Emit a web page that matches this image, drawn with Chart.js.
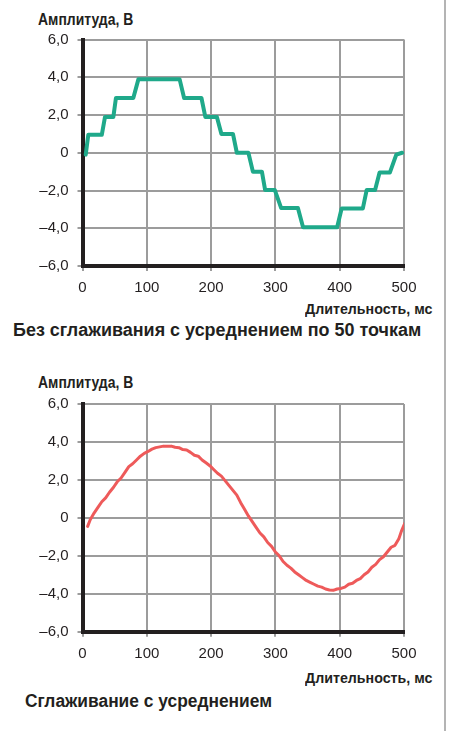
<!DOCTYPE html>
<html>
<head>
<meta charset="UTF-8">
<title>Амплитуда сигнала</title>
<script src="https://cdn.jsdelivr.net/npm/chart.js@4.4.1/dist/chart.umd.min.js"></script>
<style>
  body { margin: 0; background: #fff; width: 449px; height: 731px; position: relative; overflow: hidden; }
  .rule { position: absolute; left: 444px; top: 0; width: 2px; height: 731px; background: #b4b4b4; }
  .box { position: absolute; left: 0; width: 449px; height: 300px; }
  .lbl {
    position: absolute;
    font-family: "Liberation Sans", Arial, sans-serif;
    font-weight: bold;
    line-height: 1;
    color: #231f20;
    white-space: nowrap;
    transform-origin: left top;
  }
  .lbl.right { transform-origin: right top; }
</style>
</head>
<body>
<div class="rule"></div>

<div class="lbl" style="left:38px; top:12px; font-size:16px" data-w="95">Амплитуда, В</div>
<div class="box" style="top:0"><canvas id="chartTop"></canvas></div>
<div class="lbl right" style="right:17px; top:301px; font-size:15px" data-w="127">Длительность, мс</div>
<div class="lbl" style="left:13px; top:321px; font-size:18px" data-w="408">Без сглаживания с усреднением по 50 точкам</div>

<div class="lbl" style="left:38px; top:375px; font-size:16px" data-w="95">Амплитуда, В</div>
<div class="box" style="top:360px"><canvas id="chartBottom"></canvas></div>
<div class="lbl right" style="right:17px; top:670px; font-size:15px" data-w="127">Длительность, мс</div>
<div class="lbl" style="left:25px; top:692px; font-size:18px" data-w="247">Сглаживание с усреднением</div>

<script>
// Без сглаживания: ступенчатый сигнал (мс, В)
const stepT = [5, 9, 30, 35, 48, 52, 79, 87, 151, 158, 185, 191, 209, 216, 234, 240, 258, 265, 279, 284,
               299, 309, 335, 343, 396, 403, 436, 442, 455, 462, 478, 488, 497];
const stepV = [-0.1, 0.95, 0.95, 1.9, 1.9, 2.9, 2.9, 3.9, 3.9, 2.9, 2.9, 1.9, 1.9, 1.0, 1.0, 0, 0, -1.0, -1.0, -1.97,
               -1.97, -2.93, -2.93, -3.95, -3.95, -2.95, -2.95, -1.97, -1.97, -1.05, -1.05, -0.1, 0];

// Сглаживание с усреднением (мс, В)
const smoothT = [8, 12, 18, 24, 30, 36, 42, 48, 54, 60, 66, 72, 78, 84, 90, 96, 102, 108, 114, 120,
                 126, 132, 138, 144, 150, 156, 162, 168, 174, 180, 186, 192, 198, 204, 210, 216, 222, 228, 234, 240,
                 246, 252, 258, 264, 270, 276, 282, 288, 294, 300, 306, 312, 318, 324, 330, 336, 342, 348, 354, 360,
                 366, 372, 378, 384, 390, 396, 402, 408, 414, 420, 426, 432, 438, 444, 450, 456, 462, 468, 474, 480,
                 486, 492, 496, 501];
const smoothV = [-0.45, -0.1, 0.25, 0.55, 0.85, 1.05, 1.35, 1.6, 1.9, 2.1, 2.4, 2.7, 2.85, 3.05, 3.25, 3.4, 3.5, 3.62, 3.7, 3.74,
                 3.78, 3.77, 3.78, 3.72, 3.7, 3.6, 3.58, 3.45, 3.3, 3.25, 3.05, 2.9, 2.75, 2.55, 2.35, 2.2, 1.95, 1.7, 1.45, 1.2,
                 0.8, 0.45, 0.1, -0.2, -0.5, -0.8, -1.0, -1.3, -1.5, -1.8, -2.0, -2.3, -2.5, -2.65, -2.85, -3.0, -3.15, -3.3, -3.4, -3.5,
                 -3.6, -3.65, -3.75, -3.8, -3.82, -3.75, -3.72, -3.65, -3.5, -3.45, -3.3, -3.2, -3.0, -2.85, -2.6, -2.45, -2.2, -2.05, -1.8, -1.55,
                 -1.45, -1.1, -0.7, -0.3];

const yTicks = [-6, -4, -2, 0, 2, 4, 6];
const xTicks = [0, 100, 200, 300, 400, 500];

function fmtY(v) {
    if (v === 0) return '0';
    return (v < 0 ? '–' : '') + Math.abs(v).toFixed(1).replace('.', ',');
}

const tickFont = { family: "'Liberation Sans', Arial, sans-serif", size: 15 };

function makeChart(id, xs, ys, color, lw, padTop, xHeight, padBottom) {
    const ctx = document.getElementById(id).getContext('2d');
    return new Chart(ctx, {
        type: 'line',
        data: {
            datasets: [{
                data: xs.map((x, i) => ({ x: x, y: ys[i] })),
                borderColor: color,
                borderWidth: lw,
                borderJoinStyle: 'round',
                borderCapStyle: 'round',
                pointRadius: 0,
                tension: 0,
                fill: false
            }]
        },
        options: {
            responsive: true,
            maintainAspectRatio: false,
            animation: false,
            layout: { padding: { top: padTop, right: 45, left: 0, bottom: padBottom } },
            plugins: { legend: { display: false }, tooltip: { enabled: false } },
            scales: {
                x: {
                    type: 'linear',
                    min: 0, max: 500,
                    afterBuildTicks: s => { s.ticks = xTicks.map(v => ({ value: v })); },
                    afterFit: s => { s.height = xHeight; },
                    ticks: { color: '#231f20', font: tickFont, padding: 8, maxRotation: 0 },
                    grid: { color: '#9c9c9c', lineWidth: 2, tickLength: 5 },
                    border: { color: '#231f20', width: 4 }
                },
                y: {
                    min: -6, max: 6,
                    afterBuildTicks: s => { s.ticks = yTicks.map(v => ({ value: v })); },
                    afterFit: s => { s.width = 82.5; },
                    ticks: { color: '#231f20', font: tickFont, padding: 9, callback: v => fmtY(v) },
                    grid: { color: '#9c9c9c', lineWidth: 2, tickLength: 5 },
                    border: { color: '#231f20', width: 4 }
                }
            }
        }
    });
}

makeChart('chartTop', stepT, stepV, '#1fa98a', 4, 39.5, 30, 4);
makeChart('chartBottom', smoothT, smoothV, '#ee5a5a', 3, 44, 28.3, 0);

// подгонка ширины подписей
document.querySelectorAll('.lbl').forEach(el => {
    const w = +el.dataset.w;
    el.style.transform = 'scaleX(' + (w / el.offsetWidth) + ')';
});
</script>
</body>
</html>
